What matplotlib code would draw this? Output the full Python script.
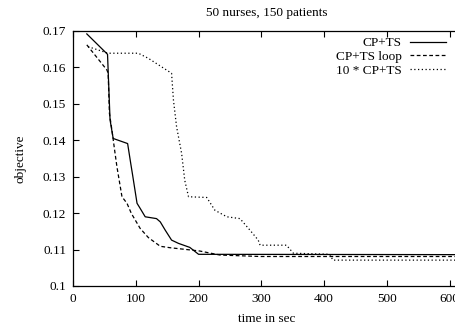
import matplotlib
matplotlib.use("Agg")
import matplotlib.pyplot as plt

plt.rcParams["font.family"] = ["Liberation Serif", "DejaVu Serif"]
plt.rcParams["font.size"] = 9.5

# values
cp_ts_time = [22, 55, 59, 64, 87, 92, 95, 102, 107, 115, 133, 139, 147, 157, 168,
              186, 200, 650]
cp_ts_obj = [0.1692, 0.1636, 0.1456, 0.1405, 0.1391, 0.1336, 0.1304, 0.1227, 0.1213,
             0.1190, 0.1185, 0.1176, 0.1153, 0.1126, 0.1117, 0.1106, 0.1087, 0.1086]

loop_time = [22, 54, 56, 58, 62, 67, 70, 78, 86, 93, 107, 120, 139, 155, 192, 202,
             234, 298, 650]
loop_obj = [0.1662, 0.1593, 0.1584, 0.1474, 0.1428, 0.1364, 0.1327, 0.1245, 0.1227,
            0.1199, 0.1158, 0.1133, 0.1109, 0.1105, 0.1098, 0.1096, 0.1085, 0.1081,
            0.1081]

ten_time = [24, 56, 104, 120, 157, 160, 165, 173, 178, 184, 213, 226, 245, 266, 282,
            295, 298, 340, 351, 409, 414, 650]
ten_obj = [0.1657, 0.1639, 0.1639, 0.1625, 0.1584, 0.1510, 0.1437, 0.1364, 0.1290,
           0.1245, 0.1243, 0.1208, 0.1190, 0.1185, 0.1153, 0.1126, 0.1112, 0.1112,
           0.1090, 0.1087, 0.1071, 0.1071]

x_ticks = [0, 100, 200, 300, 400, 500, 600]
y_ticks = [0.1, 0.11, 0.12, 0.13, 0.14, 0.15, 0.16, 0.17]

fig = plt.figure(figsize=(4.55, 3.28), dpi=100)
# the right border lies just past the picture's edge, as in the reference
ax = fig.add_axes([73 / 455, 1 - 286 / 328, 388 / 455, 255 / 328])

ax.plot(cp_ts_time, cp_ts_obj, color="black", lw=0.9, label="CP+TS")
ax.plot(loop_time, loop_obj, color="black", lw=0.9, dashes=(3, 2), label="CP+TS loop")
ax.plot(ten_time, ten_obj, color="black", lw=0.9, dashes=(1, 2), label="10 * CP+TS")

ax.set_xlim(0, 618)
ax.set_ylim(0.1, 0.17)
ax.set_xticks(x_ticks)
ax.set_yticks(y_ticks)
ax.set_yticklabels(["0.1", "0.11", "0.12", "0.13", "0.14", "0.15", "0.16", "0.17"])
ax.tick_params(direction="in", length=4, width=0.8, top=True, right=True, pad=5)
for s in ax.spines.values():
    s.set_linewidth(0.9)

ax.set_title("50 nurses, 150 patients", fontsize=9.5, pad=10.5)
ax.set_xlabel("time in sec", labelpad=6)
ax.set_ylabel("objective", labelpad=12)

ax.legend(loc="upper right", bbox_to_anchor=(446 / 455, 1 - 37 / 328),
          bbox_transform=fig.transFigure, frameon=False, markerfirst=False,
          borderpad=0, borderaxespad=0, handlelength=2.75, handletextpad=0.6,
          labelspacing=0.12)

fig.savefig("out.png", dpi=100)
